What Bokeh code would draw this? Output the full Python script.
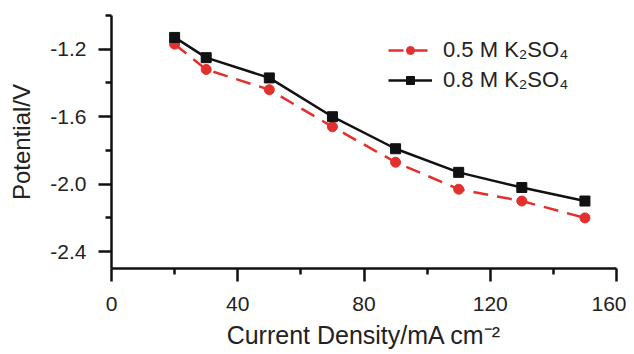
from bokeh.plotting import figure
from bokeh.models import FixedTicker, PrintfTickFormatter, Range1d, Legend, LegendItem
from bokeh.embed import file_html
from bokeh.resources import INLINE

# Data
current_density = [20, 30, 50, 70, 90, 110, 130, 150]
potential_05M = [-1.17, -1.32, -1.44, -1.66, -1.87, -2.03, -2.10, -2.20]
potential_08M = [-1.13, -1.25, -1.37, -1.60, -1.79, -1.93, -2.02, -2.10]
series_labels = ["0.5 M K\u2082SO\u2084", "0.8 M K\u2082SO\u2084"]
x_major_ticks = [0, 40, 80, 120, 160]
x_minor_ticks = [20, 60, 100, 140]
y_major_ticks = [-2.4, -2.0, -1.6, -1.2]
y_minor_ticks = [-2.2, -1.8, -1.4, -1.0]
x_title = "Current Density/mA cm\u207b\u00b2"
y_title = "Potential/V"

FONT = "Liberation Sans"
RED = "#e3302c"
BLACK = "#111111"
TEXT = "#222222"

p = figure(width=626, height=352, output_backend="svg", toolbar_location=None,
           x_range=Range1d(0, 160), y_range=Range1d(-2.5, -1.0),
           min_border_left=111, min_border_right=10, min_border_top=15, min_border_bottom=84)
p.outline_line_color = None
p.xgrid.visible = False
p.ygrid.visible = False
p.background_fill_color = "white"
p.border_fill_color = "white"

for ax in (p.xaxis[0], p.yaxis[0]):
    ax.axis_line_width = 2.5
    ax.axis_line_color = BLACK
    ax.major_tick_line_width = 2.5
    ax.minor_tick_line_width = 2.5
    ax.major_tick_line_color = BLACK
    ax.minor_tick_line_color = BLACK
    ax.major_tick_out = 13
    ax.major_tick_in = 0
    ax.minor_tick_out = 6
    ax.minor_tick_in = 0
    ax.major_label_text_font = FONT
    ax.major_label_text_font_size = "21px"
    ax.major_label_text_color = TEXT
    ax.axis_label_text_font = FONT
    ax.axis_label_text_font_style = "normal"
    ax.axis_label_text_color = TEXT

p.xaxis.axis_label_text_font_size = "25px"
p.yaxis.axis_label_text_font_size = "24px"
p.xaxis.ticker = FixedTicker(ticks=x_major_ticks, minor_ticks=x_minor_ticks)
p.yaxis.ticker = FixedTicker(ticks=y_major_ticks, minor_ticks=y_minor_ticks)
p.xaxis.formatter = PrintfTickFormatter(format="%d")
p.yaxis.formatter = PrintfTickFormatter(format="%.1f")
p.xaxis.axis_label = x_title
p.yaxis.axis_label = y_title
p.xaxis.major_label_standoff = 15
p.yaxis.major_label_standoff = 12
p.xaxis.axis_label_standoff = 7
p.yaxis.axis_label_standoff = 12

l1 = p.line(current_density, potential_05M, line_color=RED, line_width=2.5, line_dash="15 9")
s1 = p.scatter(current_density, potential_05M, marker="circle", size=10, fill_color=RED, line_color=RED)
l2 = p.line(current_density, potential_08M, line_color=BLACK, line_width=2.5)
s2 = p.scatter(current_density, potential_08M, marker="square", size=10, fill_color=BLACK, line_color=BLACK)

legend = Legend(items=[LegendItem(label=series_labels[0], renderers=[l1, s1]),
                       LegendItem(label=series_labels[1], renderers=[l2, s2])],
                location=(277, 175))
legend.border_line_color = None
legend.background_fill_alpha = 0
legend.padding = 0
legend.margin = 0
legend.spacing = 4
legend.glyph_width = 44
legend.glyph_height = 20
legend.label_height = 20
legend.label_standoff = 11
legend.label_text_font = FONT
legend.label_text_font_size = "22px"
legend.label_text_color = TEXT
p.add_layout(legend)

open("out.html", "w").write(file_html(p, INLINE))
